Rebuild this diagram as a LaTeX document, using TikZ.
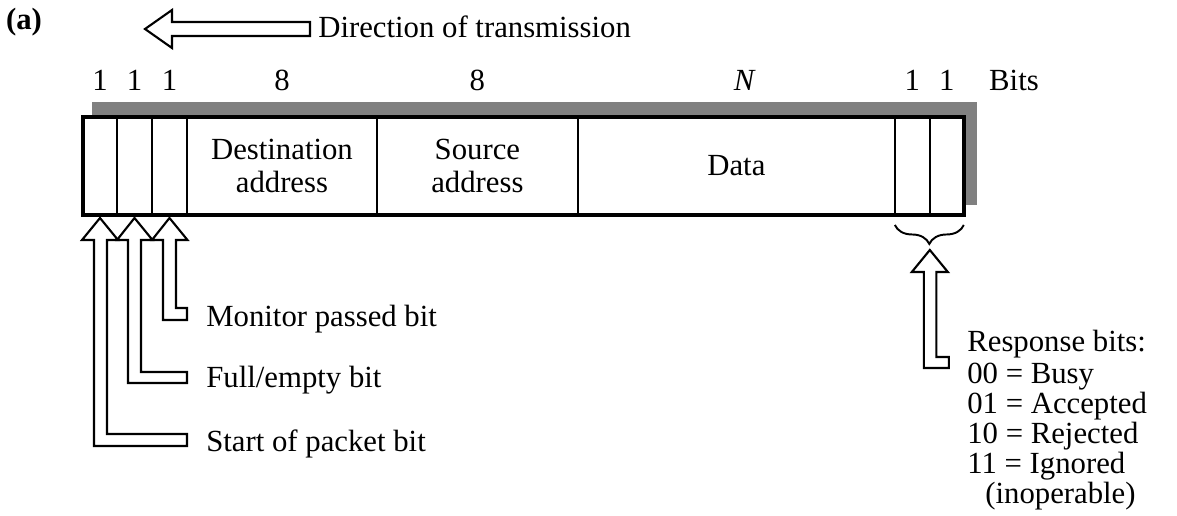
\documentclass[tikz,border=0pt]{standalone}
\usepackage{fontspec}
\setmainfont{Liberation Serif}
\usetikzlibrary{positioning,decorations.pathreplacing}
\tikzstyle{field} = [rectangle, draw=black, fill=white, line width=1.1pt, minimum height=1.96cm, inner sep=0pt, outer sep=0pt, align=center]
\tikzstyle{bitlbl} = [inner sep=0pt]
\tikzstyle{hollow} = [draw=black, fill=white, line width=1.2pt, line join=miter]
\tikzstyle{note} = [anchor=base west, inner sep=0pt]

\begin{document}
\begin{tikzpicture}[x=0.02cm, y=-0.02cm, font=\fontsize{17.5}{19}\selectfont]
\useasboundingbox (0,0) rectangle (1177,516);

\node [font=\fontsize{17.5}{19}\selectfont\bfseries] (tag) at (24,22) {(a)};

% direction of transmission
\draw [hollow] (145,29) -- (172,10) -- (172,22) -- (310,22) -- (310,36) -- (172,36) -- (172,48) -- cycle;
\node [note] (dir) at (318,38) {Direction of transmission};

% shadow behind the packet
\fill [black!50] (92,102) rectangle (977,205);

% packet fields
\node [field, minimum width=0.68cm] (sop) at (100,166) {};
\node [field, minimum width=0.70cm, right=0pt of sop] (full) {};
\node [field, minimum width=0.70cm, right=0pt of full] (mon) {};
\node [field, minimum width=3.80cm, right=0pt of mon] (dest) {Destination\\address};
\node [field, minimum width=4.02cm, right=0pt of dest] (src) {Source\\address};
\node [field, minimum width=6.34cm, right=0pt of src] (data) {Data};
\node [field, minimum width=0.70cm, right=0pt of data] (resp1) {};
\node [field, minimum width=0.68cm, right=0pt of resp1] (resp2) {};
\draw [line width=2.6pt] (sop.north west) rectangle (resp2.south east);

% field sizes
\node [bitlbl, above=0.52cm of sop] (lsop) {1};
\node [bitlbl, above=0.52cm of full] (lfull) {1};
\node [bitlbl, above=0.52cm of mon] (lmon) {1};
\node [bitlbl, above=0.52cm of dest] (ldest) {8};
\node [bitlbl, above=0.52cm of src] (lsrc) {8};
\node [bitlbl, above=0.52cm of data, xshift=0.17cm] (ldata) {\textit{N}};
\node [bitlbl, above=0.52cm of resp1] (lresp1) {1};
\node [bitlbl, above=0.52cm of resp2] (lresp2) {1};
\node [bitlbl, base right=0.68cm of lresp2] (bits) {Bits};

% header bit arrows
\draw [hollow] (sop.south) ++(0,3) -- ++(18,22) -- ++(-11,0) -- ++(0,194) -- ++(80,0) -- ++(0,12) -- ++(-93,0) -- ++(0,-206) -- ++(-12,0) -- cycle;
\draw [hollow] (full.south) ++(0,3) -- ++(18,22) -- ++(-11.5,0) -- ++(0,132) -- ++(46,0) -- ++(0,11) -- ++(-59,0) -- ++(0,-143) -- ++(-11,0) -- cycle;
\draw [hollow] (mon.south) ++(0,3) -- ++(18,22) -- ++(-11.5,0) -- ++(0,68) -- ++(11,0) -- ++(0,12) -- ++(-24,0) -- ++(0,-80) -- ++(-11,0) -- cycle;
\node [note] (monlbl) at (206,327) {Monitor passed bit};
\node [note] (fulllbl) at (206,388) {Full/empty bit};
\node [note] (soplbl) at (206,452) {Start of packet bit};

% response bits
\draw [line width=1.1pt, decorate, decoration={brace, mirror, amplitude=0.38cm, raise=0.2cm}] (resp1.south west) -- (resp2.south east);
\draw [hollow] (resp1.south east) ++(0,35) -- ++(18,22) -- ++(-11.5,0) -- ++(0,85) -- ++(12.5,0) -- ++(0,11) -- ++(-25,0) -- ++(0,-96) -- ++(-12,0) -- cycle;
\node [anchor=north west, inner sep=0pt, align=left, font=\fontsize{17.5}{17.1}\selectfont] (resp) at (967,330) {Response bits:\\[1pt]00 = Busy\\01 = Accepted\\10 = Rejected\\11 = Ignored\\\hspace{0.36cm}(inoperable)};

\end{tikzpicture}
\end{document}
